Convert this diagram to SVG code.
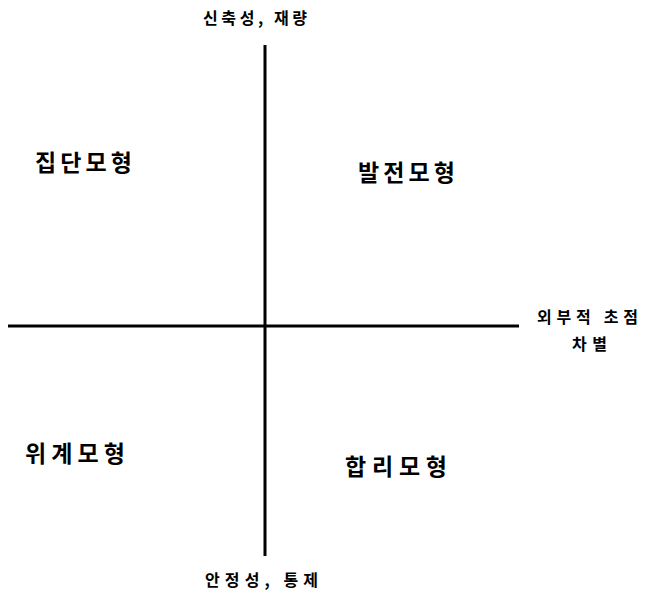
<svg xmlns="http://www.w3.org/2000/svg" width="646" height="593" viewBox="0 0 646 593">
<style>
.ax{stroke:#000;stroke-width:3;fill:none}
.q{font-family:"Noto Sans CJK KR","Noto Sans",sans-serif;font-weight:bold;font-size:23px;fill:#000}
.l{font-family:"Noto Sans CJK KR","Noto Sans",sans-serif;font-weight:bold;font-size:16px;fill:#000}
</style>
<rect width="646" height="593" fill="#fff"/>
<g id="connectors">
<line class="ax" x1="265" y1="45" x2="265" y2="556"/>
<line class="ax" x1="8" y1="326" x2="519" y2="326"/>
</g>
<g id="top-label"><text class="l" x="203" y="24" textLength="104" lengthAdjust="spacing">신축성, 재량</text></g>
<g id="bottom-label"><text class="l" x="205" y="586" textLength="113" lengthAdjust="spacing">안정성, 통제</text></g>
<g id="right-label">
<text class="l" x="537" y="323" textLength="101" lengthAdjust="spacing">외부적 초점</text>
<text class="l" x="572" y="350" textLength="35" lengthAdjust="spacing">차별</text>
</g>
<g id="q-group"><text class="q" x="35" y="171" textLength="97" lengthAdjust="spacing">집단모형</text></g>
<g id="q-dev"><text class="q" x="358" y="181" textLength="97" lengthAdjust="spacing">발전모형</text></g>
<g id="q-hier"><text class="q" x="25" y="462" textLength="100" lengthAdjust="spacing">위계모형</text></g>
<g id="q-rat"><text class="q" x="345" y="475" textLength="102" lengthAdjust="spacing">합리모형</text></g>
</svg>
